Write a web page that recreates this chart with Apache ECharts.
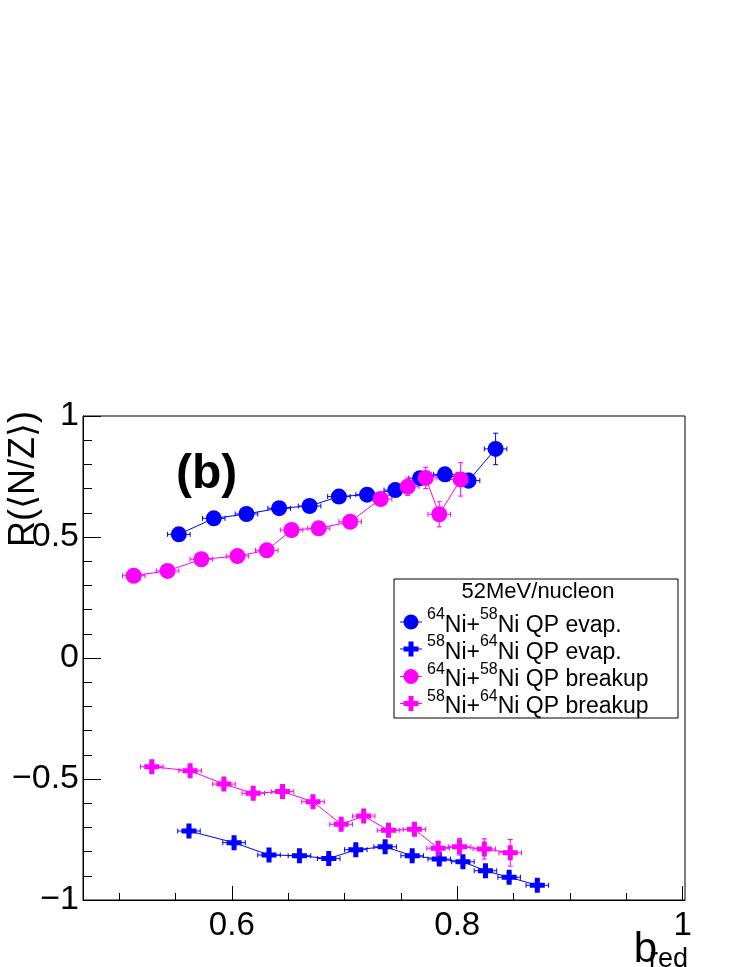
<!DOCTYPE html>
<html>
<head>
<meta charset="utf-8">
<script src="https://cdn.jsdelivr.net/npm/echarts@6/dist/echarts.min.js"></script>
<style>
  html, body { margin: 0; padding: 0; background: #fff; }
  #chart { width: 747px; height: 967px; }
</style>
</head>
<body>
<div id="chart"></div>
<script>
// 64Ni+58Ni QP evap. (blue circles)
var bCircX = [0.553, 0.584, 0.613, 0.642, 0.669, 0.695, 0.720, 0.745, 0.767, 0.789, 0.810, 0.834];
var bCircY = [0.511, 0.577, 0.595, 0.619, 0.628, 0.667, 0.675, 0.694, 0.743, 0.759, 0.733, 0.864];
var bCircErr = [0.012, 0.012, 0.012, 0.012, 0.012, 0.012, 0.014, 0.015, 0.018, 0.020, 0.030, 0.065];

// 58Ni+64Ni QP evap. (blue crosses)
var bCrossX = [0.562, 0.602, 0.633, 0.660, 0.686, 0.710, 0.736, 0.760, 0.784, 0.805, 0.825, 0.846, 0.871];
var bCrossY = [-0.715, -0.763, -0.814, -0.817, -0.829, -0.792, -0.780, -0.817, -0.831, -0.842, -0.879, -0.906, -0.939];
var bCrossErr = [0.012, 0.012, 0.012, 0.012, 0.012, 0.013, 0.013, 0.014, 0.015, 0.016, 0.017, 0.018, 0.020];

// 64Ni+58Ni QP breakup (magenta circles)
var mCircX = [0.513, 0.543, 0.573, 0.605, 0.631, 0.653, 0.677, 0.705, 0.732, 0.756, 0.772, 0.784, 0.803];
var mCircY = [0.340, 0.360, 0.408, 0.421, 0.445, 0.529, 0.536, 0.563, 0.657, 0.708, 0.744, 0.594, 0.738];
var mCircErr = [0.012, 0.012, 0.012, 0.012, 0.012, 0.013, 0.013, 0.014, 0.018, 0.036, 0.044, 0.052, 0.069];

// 58Ni+64Ni QP breakup (magenta crosses)
var mCrossX = [0.529, 0.563, 0.593, 0.619, 0.645, 0.672, 0.697, 0.717, 0.739, 0.762, 0.783, 0.802, 0.824, 0.847];
var mCrossY = [-0.449, -0.466, -0.521, -0.559, -0.552, -0.594, -0.687, -0.653, -0.712, -0.708, -0.786, -0.780, -0.789, -0.805];
var mCrossErr = [0.013, 0.013, 0.013, 0.014, 0.014, 0.015, 0.017, 0.018, 0.020, 0.020, 0.025, 0.034, 0.042, 0.055];

// half bin width in b_red
var X_ERR = 0.010;

var xMajor = [0.6, 0.8, 1.0];
var xMinor = [0.5, 0.55, 0.65, 0.7, 0.75, 0.85, 0.9, 0.95];

var BLUE = '#0000ff', MAGENTA = '#ff00ff';
var FONT = "'Liberation Sans', Arial, 'DejaVu Sans', sans-serif";
var CROSS = 'path://M1,0H2V1H3V2H2V3H1V2H0V1H1Z';

function pts(xs, ys) { return xs.map(function (x, i) { return [x, ys[i]]; }); }
function errPts(xs, ys, es) { return xs.map(function (x, i) { return [x, ys[i], X_ERR, es[i]]; }); }

function errRender(color) {
  return function (params, api) {
    var x = api.value(0), y = api.value(1), ex = api.value(2), ey = api.value(3);
    var l = api.coord([x - ex, y]), r = api.coord([x + ex, y]);
    var t = api.coord([x, y + ey]), b = api.coord([x, y - ey]);
    var st = { stroke: color, lineWidth: 1 };
    var c = 2.5;
    return {
      type: 'group',
      children: [
        { type: 'line', shape: { x1: l[0], y1: l[1], x2: r[0], y2: r[1] }, style: st },
        { type: 'line', shape: { x1: t[0], y1: t[1], x2: b[0], y2: b[1] }, style: st },
        { type: 'line', shape: { x1: l[0], y1: l[1] - c, x2: l[0], y2: l[1] + c }, style: st },
        { type: 'line', shape: { x1: r[0], y1: r[1] - c, x2: r[0], y2: r[1] + c }, style: st },
        { type: 'line', shape: { x1: t[0] - c, y1: t[1], x2: t[0] + c, y2: t[1] }, style: st },
        { type: 'line', shape: { x1: b[0] - c, y1: b[1], x2: b[0] + c, y2: b[1] }, style: st }
      ]
    };
  };
}

function makeSeries(name, xs, ys, es, color, symbol, size) {
  return [
    {
      type: 'custom', name: name + '-err', renderItem: errRender(color),
      data: errPts(xs, ys, es), encode: { x: 0, y: 1 }, silent: true
    },
    {
      type: 'line', name: name, data: pts(xs, ys),
      symbol: symbol, symbolSize: size, showSymbol: true,
      itemStyle: { color: color },
      lineStyle: { color: color, width: 1 }
    }
  ];
}

var series = []
  .concat(makeSeries('bc', bCircX, bCircY, bCircErr, BLUE, 'circle', 16))
  .concat(makeSeries('bx', bCrossX, bCrossY, bCrossErr, BLUE, CROSS, 15))
  .concat(makeSeries('mc', mCircX, mCircY, mCircErr, MAGENTA, 'circle', 16))
  .concat(makeSeries('mx', mCrossX, mCrossY, mCrossErr, MAGENTA, CROSS, 15));

// legend entries drawn ROOT-style
var legendRows = [
  { sym: 'circle', color: BLUE, a: '64', b: '58', txt: 'Ni QP evap.' },
  { sym: 'cross', color: BLUE, a: '58', b: '64', txt: 'Ni QP evap.' },
  { sym: 'circle', color: MAGENTA, a: '64', b: '58', txt: 'Ni QP breakup' },
  { sym: 'cross', color: MAGENTA, a: '58', b: '64', txt: 'Ni QP breakup' }
];
var legendEls = [
  { type: 'rect', shape: { x: 394, y: 579, width: 284, height: 139 },
    style: { fill: '#fff', stroke: '#000', lineWidth: 1 } },
  { type: 'text', x: 538, y: 592,
    style: { text: '52MeV/nucleon', font: '22px ' + FONT, fill: '#000', align: 'center', verticalAlign: 'middle' } }
];
var rowY = [622, 649, 676.5, 703.5];
legendRows.forEach(function (r, i) {
  var y = rowY[i];
  legendEls.push({ type: 'line', shape: { x1: 400, y1: y, x2: 422, y2: y }, style: { stroke: r.color, lineWidth: 1 } });
  if (r.sym === 'circle') {
    legendEls.push({ type: 'circle', shape: { cx: 411, cy: y, r: 7.5 }, style: { fill: r.color } });
  } else {
    legendEls.push({ type: 'polygon', shape: { points: [
      [408.5, y - 7.5], [413.5, y - 7.5], [413.5, y - 2.5], [418.5, y - 2.5], [418.5, y + 2.5], [413.5, y + 2.5],
      [413.5, y + 7.5], [408.5, y + 7.5], [408.5, y + 2.5], [403.5, y + 2.5], [403.5, y - 2.5], [408.5, y - 2.5]
    ] }, style: { fill: r.color } });
  }
  legendEls.push({
    type: 'text', x: 427, y: y,
    style: {
      text: '{s|' + r.a + '}{n|Ni+}{s|' + r.b + '}{n|' + r.txt + '}',
      verticalAlign: 'middle', align: 'left',
      rich: {
        n: { font: '23px ' + FONT, fill: '#000', lineHeight: 30, verticalAlign: 'bottom' },
        s: { font: '16px ' + FONT, fill: '#000', lineHeight: 16, verticalAlign: 'top' }
      }
    }
  });
});

var chart = echarts.init(document.getElementById('chart'), null, { renderer: 'canvas' });
chart.setOption({
  backgroundColor: '#fff',
  animation: false,
  grid: { left: 83, top: 416, width: 602, height: 484, show: true, borderColor: '#000', borderWidth: 1, backgroundColor: 'transparent' },
  xAxis: [
    {
      type: 'value', min: 0.468, max: 1.002, position: 'bottom',
      axisLine: { show: true, onZero: false, lineStyle: { color: '#000', width: 1 } },
      axisTick: { show: true, inside: true, length: 14, customValues: xMajor, lineStyle: { color: '#000' } },
      axisLabel: { show: true, customValues: xMajor, margin: 9, color: '#000', fontSize: 33, fontFamily: FONT,
        formatter: function (v) { return String(Math.round(v * 10) / 10); } },
      splitLine: { show: false }
    },
    {
      type: 'value', min: 0.468, max: 1.002, position: 'bottom',
      axisLine: { show: false, onZero: false },
      axisTick: { show: true, inside: true, length: 7, customValues: xMinor, lineStyle: { color: '#000' } },
      axisLabel: { show: false },
      splitLine: { show: false }
    }
  ],
  yAxis: {
    type: 'value', min: -1, max: 1, interval: 0.5,
    axisLine: { show: true, onZero: false, lineStyle: { color: '#000', width: 1 } },
    axisTick: { show: true, inside: true, length: 18, lineStyle: { color: '#000' } },
    minorTick: { show: true, splitNumber: 5, length: 9, lineStyle: { color: '#000' } },
    axisLabel: { margin: 4, color: '#000', fontSize: 34, fontFamily: FONT,
      formatter: function (v) { return String(v).replace('-', '\u2212'); } },
    splitLine: { show: false }
  },
  series: series,
  graphic: [
    { type: 'text', x: 176, y: 475,
      style: { text: '(b)', font: 'bold 48px ' + FONT, fill: '#000', verticalAlign: 'middle' } },
    { type: 'text', x: 24, y: 411, rotation: Math.PI / 2,
      style: { text: 'R(\u27E8N/Z\u27E9)', font: '36px ' + FONT, fill: '#000', align: 'right', verticalAlign: 'middle' } },
    { type: 'text', x: 657, y: 971,
      style: { text: 'b', font: '42px ' + FONT, fill: '#000', align: 'right', verticalAlign: 'bottom' } },
    { type: 'text', x: 688, y: 973,
      style: { text: 'red', font: '27px ' + FONT, fill: '#000', align: 'right', verticalAlign: 'bottom' } },
    { type: 'group', children: legendEls }
  ]
});
</script>
</body>
</html>
